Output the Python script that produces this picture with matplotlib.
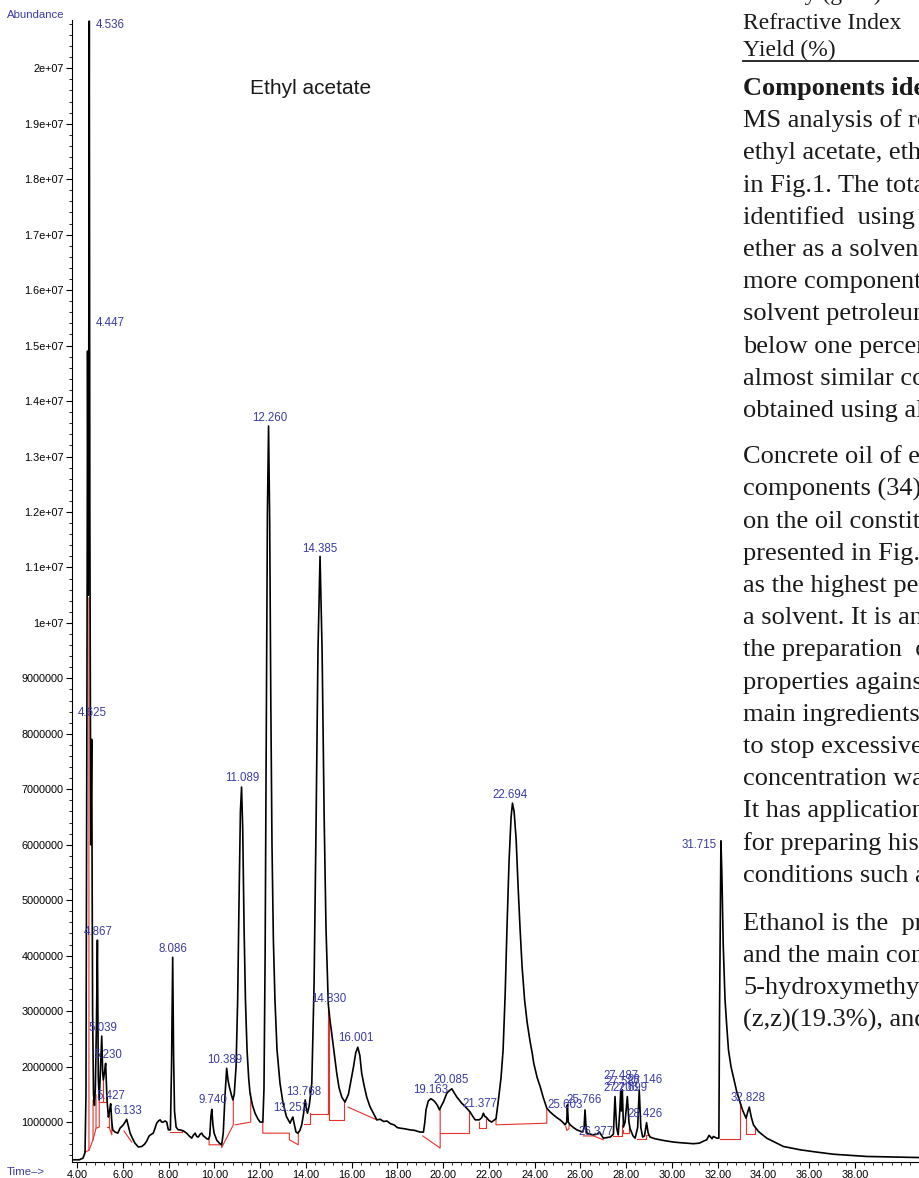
import matplotlib
matplotlib.use("Agg")
import matplotlib.pyplot as plt
from matplotlib.lines import Line2D
from matplotlib.ticker import MultipleLocator

# total ion chromatogram, retention time (min) vs abundance (x 1e6)
rt = [3.78, 4.10, 4.26, 4.35, 4.39, 4.43, 4.46, 4.49, 4.51, 4.535, 4.56, 4.60, 4.64, 4.68,
      4.72, 4.76, 4.80, 4.85, 4.89, 4.93, 4.97, 5.02, 5.08, 5.12, 5.15, 5.20, 5.25, 5.31,
      5.37, 5.42, 5.47, 5.52, 5.56, 5.66, 5.78, 5.88, 6.02, 6.10, 6.17, 6.25, 6.32, 6.43,
      6.53, 6.68, 6.83, 6.95, 7.05, 7.15, 7.25, 7.33, 7.40, 7.48, 7.56, 7.63, 7.70, 7.77,
      7.85, 7.92, 7.99, 8.08, 8.13, 8.18, 8.22, 8.26, 8.33, 8.42, 8.50, 8.65, 8.79, 8.90,
      9.01, 9.08, 9.16, 9.23, 9.30, 9.38, 9.45, 9.52, 9.59, 9.67, 9.74, 9.80, 9.85, 9.89,
      9.94, 9.99, 10.11, 10.22, 10.32, 10.39, 10.47, 10.54, 10.60, 10.66, 10.74, 10.81,
      10.87, 10.95, 11.02, 11.08, 11.14, 11.19, 11.24, 11.30, 11.36, 11.43, 11.50, 11.56,
      11.67, 11.78, 11.90, 12.00, 12.12, 12.17, 12.22, 12.27, 12.32, 12.37, 12.42, 12.47,
      12.52, 12.58, 12.65, 12.74, 12.87, 13.00, 13.15, 13.31, 13.38, 13.43, 13.50, 13.57,
      13.65, 13.74, 13.82, 13.90, 13.97, 14.02, 14.07, 14.15, 14.26, 14.36, 14.45, 14.53,
      14.62, 14.71, 14.80, 14.88, 14.98, 15.05, 15.13, 15.25, 15.35, 15.45, 15.57, 15.71,
      15.86, 15.97, 16.08, 16.18, 16.27, 16.36, 16.44, 16.55, 16.66, 16.80, 16.95, 17.10,
      17.25, 17.40, 17.54, 17.70, 17.85, 18.00, 18.12, 18.30, 18.55, 18.75, 18.99, 19.14,
      19.20, 19.25, 19.35, 19.46, 19.55, 19.65, 19.75, 19.84, 19.93, 20.01, 20.16, 20.28,
      20.38, 20.48, 20.60, 20.70, 20.81, 20.92, 21.03, 21.18, 21.30, 21.40, 21.58, 21.69,
      21.76, 21.82, 21.88, 22.00, 22.12, 22.31, 22.41, 22.53, 22.62, 22.71, 22.79, 22.88,
      22.97, 23.03, 23.10, 23.19, 23.27, 23.36, 23.45, 23.56, 23.67, 23.80, 23.89, 23.96,
      24.11, 24.24, 24.37, 24.53, 24.68, 24.82, 24.97, 25.11, 25.22, 25.33, 25.40, 25.43,
      25.47, 25.55, 25.70, 25.84, 26.10, 26.16, 26.20, 26.24, 26.28, 26.45, 26.57, 26.72,
      26.83, 26.92, 27.00, 27.15, 27.30, 27.44, 27.51, 27.58, 27.65, 27.72, 27.76, 27.79,
      27.83, 27.88, 27.95, 28.05, 28.12, 28.17, 28.30, 28.39, 28.50, 28.57, 28.64, 28.72,
      28.80, 28.89, 28.96, 29.04, 29.25, 29.48, 29.75, 30.06, 30.30, 30.60, 30.94, 31.20,
      31.40, 31.52, 31.62, 31.67, 31.75, 31.81, 31.96, 32.05, 32.08, 32.14, 32.18, 32.24,
      32.32, 32.40, 32.47, 32.58, 32.68, 32.83, 32.98, 33.10, 33.24, 33.31, 33.38, 33.46,
      33.56, 33.78, 34.14, 34.87, 35.60, 36.30, 37.06, 37.80, 38.51, 39.60, 40.84]
abund = [0.32, 0.32, 0.35, 0.45, 1.5, 8.0, 14.9, 10.5, 14.0, 20.85, 12.0, 6.0, 7.9, 3.0,
         1.5, 1.3, 1.6, 2.8, 4.28, 1.8, 1.40, 1.9, 2.55, 1.9, 1.76, 1.9, 2.06, 1.4,
         1.09, 1.2, 1.33, 1.0, 0.86, 0.82, 0.80, 0.89, 0.95, 1.0, 1.05, 0.92, 0.80, 0.70,
         0.62, 0.55, 0.56, 0.60, 0.66, 0.75, 0.78, 0.80, 0.88, 0.98, 1.02, 1.04, 1.0, 1.0,
         1.02, 1.0, 0.86, 0.86, 2.0, 3.97, 2.2, 1.2, 0.91, 0.86, 0.86, 0.84, 0.80, 0.75,
         0.71, 0.76, 0.80, 0.74, 0.73, 0.78, 0.80, 0.75, 0.73, 0.70, 0.69, 0.75, 1.1, 1.23,
         0.95, 0.80, 0.67, 0.62, 0.59, 0.80, 1.5, 1.97, 1.75, 1.63, 1.5, 1.40,
         1.5, 2.0, 3.2, 5.0, 6.6, 7.04, 6.3, 4.5, 3.2, 2.3, 1.8, 1.52,
         1.3, 1.16, 1.06, 1.0, 1.0, 1.6, 4.0, 8.0, 12.0, 13.55, 11.8, 8.5,
         6.0, 4.3, 3.2, 2.3, 1.7, 1.35, 1.1, 0.98, 1.05, 1.09, 0.95, 0.82,
         0.80, 0.85, 0.95, 1.15, 1.40, 1.25, 1.16, 1.3, 1.7, 3.5, 6.5, 9.5,
         11.2, 9.5, 6.5, 4.5, 3.13, 2.85, 2.6, 2.2, 1.88, 1.62, 1.45, 1.36,
         1.5, 1.75, 1.99, 2.25, 2.35, 2.2, 1.88, 1.65, 1.45, 1.28, 1.16, 1.04,
         1.05, 1.01, 1.02, 0.97, 0.95, 0.90, 0.89, 0.88, 0.86, 0.85, 0.82, 0.82,
         1.0, 1.22, 1.38, 1.42, 1.40, 1.36, 1.30, 1.22, 1.30, 1.36, 1.52, 1.57,
         1.60, 1.53, 1.45, 1.40, 1.34, 1.30, 1.25, 1.18, 1.10, 1.04, 1.04, 1.08,
         1.16, 1.10, 1.09, 1.03, 1.0, 1.06, 1.38, 1.8, 2.3, 3.3, 4.5, 5.7,
         6.5, 6.75, 6.6, 6.1, 5.3, 4.5, 3.8, 3.2, 2.8, 2.45, 2.25, 2.06,
         1.8, 1.64, 1.45, 1.25, 1.18, 1.13, 1.08, 1.04, 1.0, 0.95, 1.0, 1.31,
         1.0, 0.95, 0.90, 0.86, 0.82, 0.9, 1.22, 0.95, 0.80, 0.78, 0.77, 0.78,
         0.82, 0.76, 0.71, 0.72, 0.73, 0.78, 1.46, 0.90, 0.77, 1.2, 1.55, 1.2,
         1.58, 0.91, 1.0, 1.46, 1.0, 0.88, 0.75, 0.71, 0.9, 1.58, 0.9, 0.73,
         0.75, 0.99, 0.80, 0.73, 0.70, 0.68, 0.66, 0.64, 0.63, 0.62, 0.61, 0.62,
         0.66, 0.68, 0.76, 0.74, 0.70, 0.74, 0.71, 0.71, 3.0, 6.07, 5.5, 4.2,
         3.2, 2.7, 2.3, 2.0, 1.82, 1.55, 1.35, 1.2, 1.07, 1.18, 1.27, 1.1,
         0.95, 0.83, 0.71, 0.56, 0.50, 0.46, 0.42, 0.40, 0.38, 0.37, 0.36]

# integration baselines / drop lines (red), as (rt, abundance x 1e6) polylines
baselines = [
    [(4.35, 0.46), (4.52, 0.49), (4.52, 10.45)],
    [(4.52, 0.49), (4.70, 0.68), (4.70, 1.40)],
    [(4.70, 0.68), (4.83, 0.89), (4.83, 1.49)],
    [(4.83, 0.89), (4.97, 0.91), (4.97, 1.76)],
    [(4.97, 1.36), (5.12, 1.36), (5.12, 1.76)],
    [(5.12, 1.36), (5.30, 1.36), (5.30, 1.45)],
    [(5.30, 0.91), (5.40, 0.91), (5.40, 1.15)],
    [(5.40, 0.91), (5.52, 0.77), (5.52, 1.0)],
    [(6.05, 0.84), (6.39, 0.64)],
    [(8.06, 0.82), (8.58, 0.82), (8.58, 0.86)],
    [(9.77, 0.70), (9.77, 0.59), (10.32, 0.59), (10.32, 0.54), (10.83, 0.95), (10.83, 1.45)],
    [(10.91, 0.95), (11.59, 1.0), (11.59, 1.52)],
    [(12.12, 1.0), (12.12, 0.80), (13.28, 0.80), (13.28, 0.68), (13.67, 0.59), (13.67, 0.82)],
    [(13.93, 0.96), (14.18, 0.96), (14.18, 1.16)],
    [(14.18, 1.14), (14.98, 1.14), (14.98, 3.13)],
    [(15.03, 3.0), (15.03, 1.04), (15.67, 1.04), (15.67, 1.36)],
    [(15.84, 1.27), (17.10, 1.04)],
    [(19.11, 0.75), (19.87, 0.53), (19.87, 1.22)],
    [(19.87, 0.80), (21.15, 0.80), (21.15, 1.20)],
    [(21.58, 1.01), (21.58, 0.89), (21.88, 0.89), (21.88, 1.09)],
    [(22.31, 1.06), (22.31, 0.95), (24.53, 0.98), (24.53, 1.25)],
    [(25.36, 0.92), (25.40, 0.85), (25.50, 0.88), (25.50, 0.95)],
    [(26.13, 0.75), (26.57, 0.75), (27.00, 0.68)],
    [(27.44, 0.74), (27.80, 0.74), (27.80, 0.95)],
    [(27.85, 0.86), (27.85, 0.80), (28.12, 0.80), (28.12, 0.92)],
    [(28.49, 0.69), (28.86, 0.69), (28.86, 0.77), (29.00, 0.77)],
    [(32.10, 0.69), (32.98, 0.69), (32.98, 1.35)],
    [(33.24, 1.07), (33.24, 0.78), (33.63, 0.78), (33.63, 0.92)],
]

# peak labels: text, left edge (rt), height (abundance x 1e6)
peak_names = ["4.536", "4.447", "4.625", "4.867", "5.039", "5.230", "5.427", "6.133",
              "8.086", "9.740", "10.389", "11.089", "12.260", "13.252", "13.768", "14.385",
              "14.830", "16.001", "19.163", "20.085", "21.377", "22.694", "25.603", "25.766",
              "26.377", "27.206", "27.487", "27.587", "27.699", "28.146", "28.426", "31.715",
              "32.828"]
label_rt = [4.83, 4.83, 4.04, 4.31, 4.48, 4.70, 4.87, 5.57,
            7.58, 9.29, 9.69, 10.47, 11.65, 12.57, 13.13, 13.83,
            14.22, 15.41, 18.69, 19.56, 20.83, 22.14, 24.54, 25.37,
            25.90, 26.99, 26.99, 27.08, 27.39, 28.04, 28.04, 30.44,
            32.54]
label_ab = [20.78, 15.40, 8.37, 4.43, 2.70, 2.21, 1.47, 1.20,
            4.12, 1.40, 2.12, 7.20, 13.69, 1.25, 1.54, 11.33,
            3.22, 2.51, 1.58, 1.76, 1.33, 6.90, 1.31, 1.40,
            0.82, 1.61, 1.83, 1.72, 1.61, 1.76, 1.14, 6.00,
            1.43]

ytick_vals = list(range(1, 21))
ytick_text = ["1000000", "2000000", "3000000", "4000000", "5000000", "6000000", "7000000",
              "8000000", "9000000", "1e+07", "1.1e+07", "1.2e+07", "1.3e+07", "1.4e+07",
              "1.5e+07", "1.6e+07", "1.7e+07", "1.8e+07", "1.9e+07", "2e+07"]
xtick_vals = list(range(4, 39, 2))

# page text to the right of the figure (table rows, then body paragraphs)
table_lines = ["Density (g/ml)", "Refractive Index", "Yield (%)"]
page_lines = [
    "Components identified", "MS analysis of rose", "ethyl acetate, ethanol",
    "in Fig.1. The total", "identified  using ethyl", "ether as a solvent",
    "more components", "solvent petroleum", "below one percent",
    "almost similar com", "obtained using alcohol",
    "Concrete oil of ethyl", "components (34) were", "on the oil constituents",
    "presented in Fig. 1", "as the highest percentage", "a solvent. It is an",
    "the preparation  of", "properties against", "main ingredients of",
    "to stop excessive", "concentration was", "It has applications",
    "for preparing his", "conditions such as",
    "Ethanol is the  prime", "and the main compo", "5-hydroxymethyl",
    "(z,z)(19.3%), and",
]

W, H = 920, 1178
BLUE = "#3b3ba6"
RED = "#e8322c"
plt.rcParams['font.family'] = ['Liberation Sans', 'DejaVu Sans']

fig = plt.figure(figsize=(W / 100, H / 100), dpi=100)
ax = fig.add_axes([72 / W, 16 / H, 848 / W, 1142 / H])
ax.set_xlim(3.78, 40.84)
ax.set_ylim(0.28e6, 20.87e6)

for seg in baselines:
    ax.plot([p[0] for p in seg], [p[1] * 1e6 for p in seg], color=RED, lw=0.8, zorder=2)
ax.plot(rt, [a * 1e6 for a in abund], color="black", lw=1.2, zorder=3)

for name, x, y in zip(peak_names, label_rt, label_ab):
    ax.text(x, y * 1e6, name, color=BLUE, fontsize=8.3, ha="left", va="center", zorder=4)

for s in ["top", "right"]:
    ax.spines[s].set_visible(False)
ax.spines["left"].set_linewidth(0.8)
ax.spines["bottom"].set_linewidth(0.8)
ax.set_yticks([v * 1e6 for v in ytick_vals])
ax.set_yticklabels(ytick_text)
ax.set_xticks(xtick_vals)
ax.set_xticklabels([f"{v:.2f}" for v in xtick_vals])
ax.yaxis.set_minor_locator(MultipleLocator(2e5))
ax.xaxis.set_minor_locator(MultipleLocator(0.4))
ax.tick_params(which="major", direction="out", length=4, width=0.8, labelsize=7.8, pad=2)
ax.tick_params(which="minor", direction="out", length=2, width=0.6)

fig.text(7 / W, 1 - 15 / H, "Abundance", color=BLUE, fontsize=8.2, va="center")
fig.text(7 / W, 1 - 1172 / H, "Time\u2013>", color=BLUE, fontsize=8.2, va="center")
fig.text(250 / W, 1 - 89 / H, "Ethyl acetate", color="#1a1a1a", fontsize=15, va="center")

# text column
serif = ['Liberation Serif', 'DejaVu Serif']
x0 = 743
for line, yb in zip(table_lines, [0, 29, 56]):
    fig.text(x0 / W, 1 - yb / H, line, family=serif, fontsize=17, color="#1a1a1a",
             va="baseline")
fig.add_artist(Line2D([x0 / W, 1.0], [1 - 61 / H, 1 - 61 / H], color="#1a1a1a", lw=1.3))

y = 95
for i, line in enumerate(page_lines):
    if i == 11:
        y += 14
    if i == 25:
        y += 16
    fig.text(x0 / W, 1 - y / H, line, family=serif, fontsize=19, color="#1a1a1a",
             va="baseline", weight="bold" if i == 0 else "normal")
    y += 32.2

fig.savefig("out.png", dpi=100)
